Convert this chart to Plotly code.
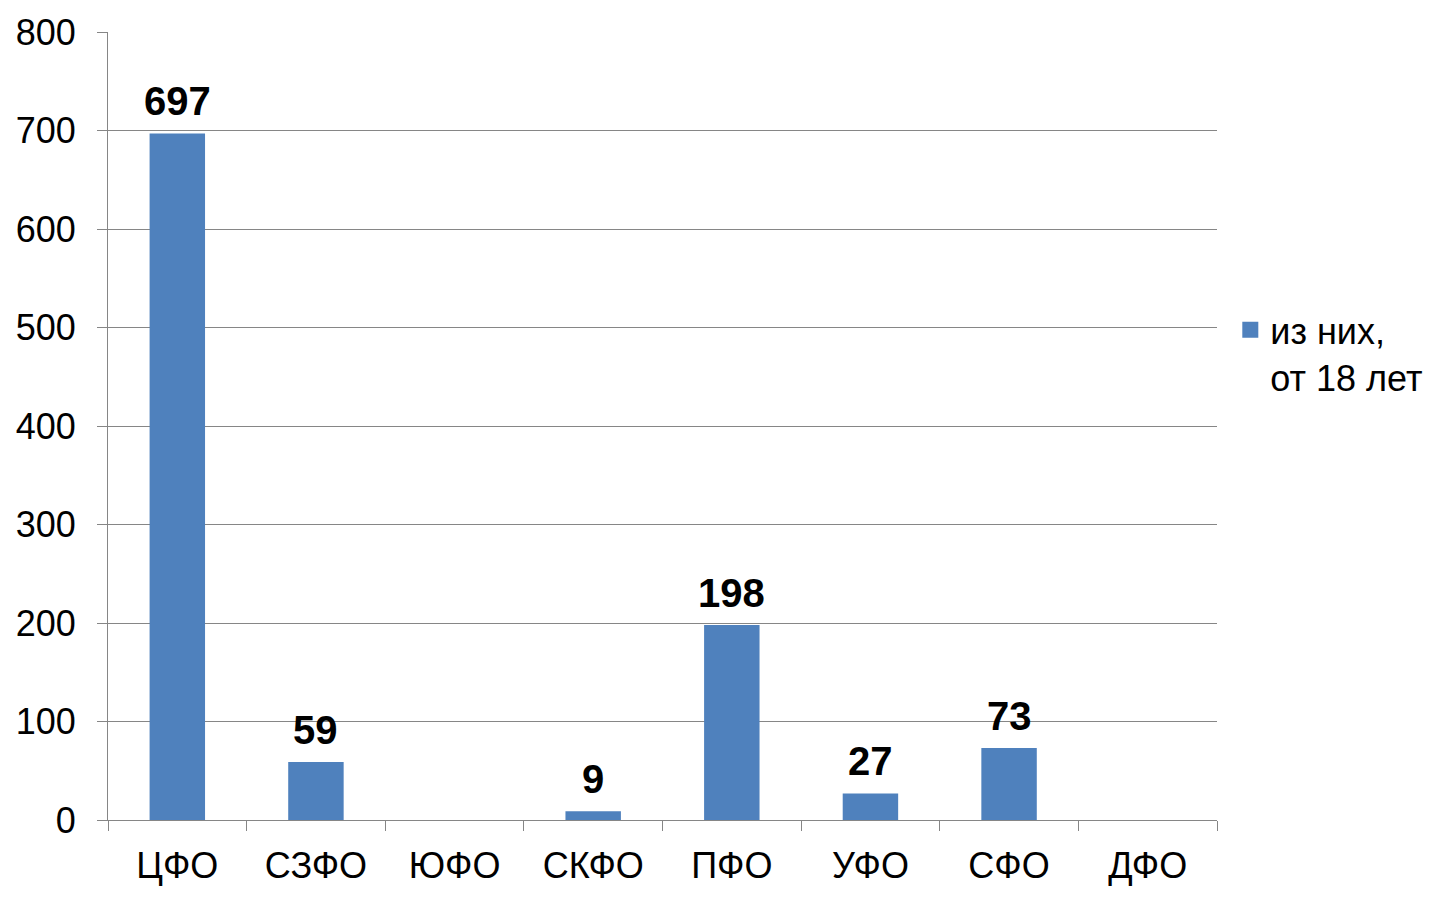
import plotly.graph_objects as go

# данные
okruga = ['ЦФО', 'СЗФО', 'ЮФО', 'СКФО', 'ПФО', 'УФО', 'СФО', 'ДФО']
ot_18_let = [697, 59, 0, 9, 198, 27, 73, 0]
y_ticks = [0, 100, 200, 300, 400, 500, 600, 700, 800]
seriya = 'из них,<br>от 18 лет'

BLUE = '#4F81BD'
GRID = '#868686'

fig = go.Figure()
fig.add_trace(go.Bar(
    x=okruga,
    y=ot_18_let,
    name=seriya,
    showlegend=False,
    marker=dict(color=BLUE, line=dict(width=0)),
))
# отдельный след только для легенды (квадратный маркер покрупнее)
fig.add_trace(go.Scatter(
    x=[okruga[0]], y=[None], mode='markers', name=seriya,
    marker=dict(symbol='square', size=17, color=BLUE),
))

# подписи над столбцами (нулевые не показываем)
for ok, v in zip(okruga, ot_18_let):
    if v:
        fig.add_annotation(x=ok, y=v, text='<b>%d</b>' % v, showarrow=False,
                           yanchor='bottom', yshift=8,
                           font=dict(family='Liberation Sans, Arial', size=40, color='black'))

fig.update_layout(
    width=1442, height=898,
    margin=dict(l=100, r=233, t=24, b=86, autoexpand=False),
    paper_bgcolor='white',
    plot_bgcolor='white',
    bargap=0.6,
    font=dict(family='Liberation Sans, Arial', size=36, color='black'),
    showlegend=True,
    legend=dict(x=1.012, xanchor='left', y=0.66, yanchor='top', valign='top',
                font=dict(size=36), itemsizing='trace'),
)
fig.update_xaxes(
    showline=True, linecolor=GRID, linewidth=1,
    ticks='outside', tickson='boundaries', ticklen=10, tickcolor=GRID,
    ticklabelstandoff=14, automargin=False,
    showgrid=False,
)
fig.update_yaxes(
    range=[0, 800], tickvals=y_ticks,
    showline=True, linecolor=GRID, linewidth=1,
    ticks='outside', ticklen=10, tickcolor=GRID,
    ticklabelstandoff=14, automargin=False,
    showgrid=True, gridcolor=GRID, gridwidth=1,
    zeroline=False,
)

fig.write_html("out.html")
